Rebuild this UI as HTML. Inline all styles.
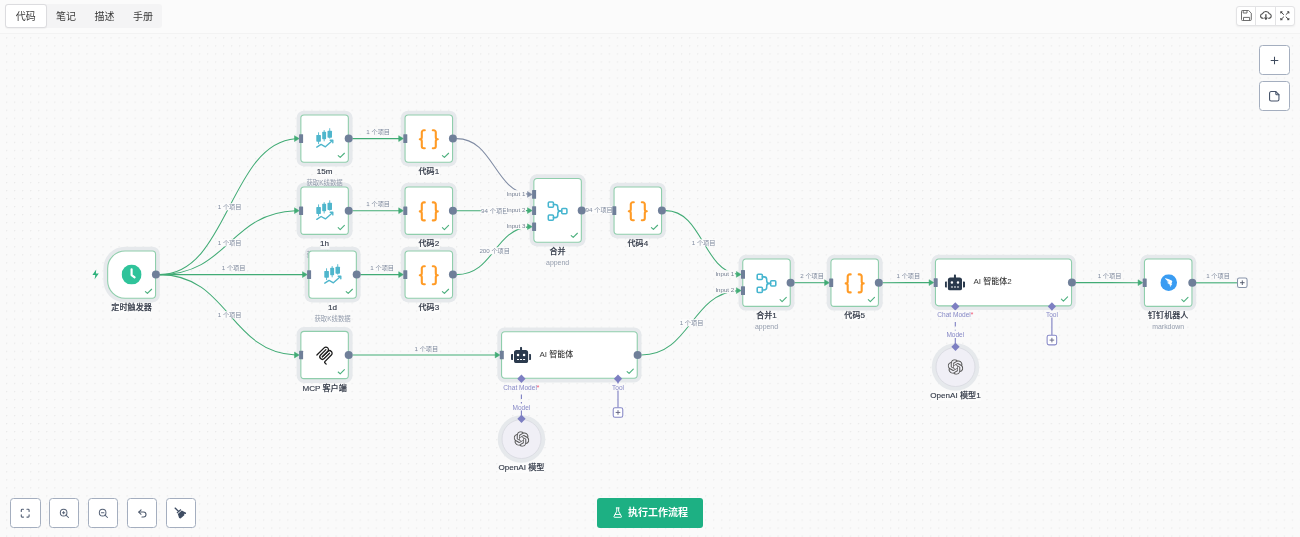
<!DOCTYPE html>
<html lang="zh-CN"><head><meta charset="utf-8"><title>工作流</title>
<style>
html,body{margin:0;padding:0}
html{will-change:transform}
body{width:1300px;height:537px;position:relative;overflow:hidden;background:#fafafa;font-family:"Liberation Sans","Noto Sans CJK SC",sans-serif;color:#333}
#canvas{position:absolute;left:0;top:33.6px;width:1296px;height:502px;background-color:#fafafa;transform-origin:0 0;transform:scale(1.0045);
 background-image:radial-gradient(circle at 0.6px 0.6px,#e9e9e9 0.5px,rgba(233,233,233,0) 0.9px);background-size:8px 8px;background-position:6px 3.3px}
#edges{position:absolute;left:0;top:0;pointer-events:none}
#topbar{position:absolute;left:0;top:0;width:1300px;height:33px;background:#fbfbfb;border-bottom:1px solid #f3f3f3}
.tabs{position:absolute;left:5px;top:4.2px;height:24.2px;width:157px;background:#f4f4f5;border-radius:3px}
.tab{position:absolute;top:0;height:24.2px;line-height:26px;font-size:10px;color:#3a3a3a;text-align:center;width:39px}
.tab.act{background:#fff;border:1px solid #dcdcdf;border-radius:3px;box-sizing:border-box;line-height:24px;box-shadow:0 0.5px 1px rgba(0,0,0,.04)}
.tbgrp{position:absolute;left:1236.4px;top:6.3px;width:58.6px;height:19.4px;background:#fff;border:1px solid #e3e3e5;border-radius:3px;box-sizing:border-box;box-shadow:0 1px 2px rgba(0,0,0,.06)}
.tbgrp i{position:absolute;top:0;width:1px;height:17.4px;background:#e3e3e5}
.tbgrp svg{position:absolute}
.cbtn{position:absolute;width:30.2px;height:29.8px;box-sizing:border-box;background:#fff;border:1px solid #a4aebf;border-radius:3.5px}
.cbtn svg{position:absolute}
.run{position:absolute;left:597px;top:497.8px;width:105.6px;height:30.2px;background:#1db083;border-radius:3px;color:#fff;font-weight:700;font-size:10px;line-height:29px}
.run span{position:absolute;left:31px;top:0;white-space:nowrap}
.run svg{position:absolute;left:16px;top:9px;width:9.4px;height:11.2px}
.node{position:absolute;box-sizing:border-box;background:#fff;border:1.1px solid #8fceac;border-radius:4.2px}
.node.trig{border-radius:18px 4.2px 4.2px 18px}
.node .ic{position:absolute;overflow:visible}
.node .chk{position:absolute;right:3.4px;bottom:4.2px;width:7px;height:5.2px;overflow:visible}
.hin{position:absolute;width:4px;height:8.6px;background:#6f7f99;border-radius:0.6px}
.hout{position:absolute;width:8px;height:8px;border-radius:50%;background:#6f7f99}
.nl{position:absolute;transform:translateX(-50%);white-space:nowrap;font-size:8.1px;font-weight:500;color:#333a48;-webkit-text-stroke:0.14px #333a48;line-height:10px;background:rgba(252,252,252,.8)}
.ns{position:absolute;transform:translateX(-50%);white-space:nowrap;font-size:6.4px;color:#939cac;line-height:8px}
.inl{position:absolute;white-space:nowrap;font-size:8px;font-weight:500;color:#383838;line-height:12px}
.il{position:absolute;transform:translate(-100%,-50%);white-space:nowrap;font-size:6.15px;color:#747e91;line-height:7.6px;background:#fafafa;padding:0 0.5px 0 0.8px}
.el{position:absolute;white-space:nowrap;font-size:6.2px;color:#7e899d;line-height:7.4px;padding:0 0.6px}
.el.above{transform:translate(-50%,-50%)}
.el.mid{transform:translate(-50%,-50%);background:#fcfcfc}
.al{position:absolute;transform:translate(-50%,-50%);white-space:nowrap;font-size:6.55px;color:#8688c6;line-height:7px;background:#fafafa;padding:0 0.4px}
.al .req{color:#f0506e}
.dia{position:absolute;width:5.9px;height:5.9px;background:#7d7fc2;transform:translate(-50%,-50%) rotate(45deg)}
.plus{position:absolute;width:10.6px;height:10.6px;box-sizing:border-box;background:#fff;border-radius:2.2px}
.plus.p{border:1.05px solid #8587c6}
.plus.g{border:1.05px solid #8793a9}
.plus svg{position:absolute;left:0;top:0;width:8.5px;height:8.5px}
.model{position:absolute;width:40px;height:40px;box-sizing:border-box;border-radius:50%;background:#f0eff6;border:1px solid #dcdde4}
.model .ic{position:absolute}
.halo{position:absolute;background:#e6e9ec;border-radius:7.8px}
.halo.trig{border-radius:21.6px 7.8px 7.8px 21.6px}
.halo.round{border-radius:50%}
.ns.lat{font-size:6.9px}
.lay{position:absolute;overflow:visible}

</style></head>
<body>
<div id="canvas"></div>
<svg class="lay" style="left:0;top:0" width="1300" height="537" viewBox="0 0 1300 537"><path d="M125.10,246.70 H152.40 A7.4,7.4 0 0 1 159.80,254.10 V295.10 A7.4,7.4 0 0 1 152.40,302.50 H125.10 A21.7,21.7 0 0 1 103.40,280.80 V268.40 A21.7,21.7 0 0 1 125.10,246.70Z" fill="#e6e9ec"/><path d="M304.00,182.80 H345.20 A7.4,7.4 0 0 1 352.60,190.20 V231.20 A7.4,7.4 0 0 1 345.20,238.60 H304.00 A7.4,7.4 0 0 1 296.60,231.20 V190.20 A7.4,7.4 0 0 1 304.00,182.80Z" fill="#e6e9ec"/><path d="M304.00,110.70 H345.20 A7.4,7.4 0 0 1 352.60,118.10 V159.10 A7.4,7.4 0 0 1 345.20,166.50 H304.00 A7.4,7.4 0 0 1 296.60,159.10 V118.10 A7.4,7.4 0 0 1 304.00,110.70Z" fill="#e6e9ec"/><path d="M408.20,110.70 H449.40 A7.4,7.4 0 0 1 456.80,118.10 V159.10 A7.4,7.4 0 0 1 449.40,166.50 H408.20 A7.4,7.4 0 0 1 400.80,159.10 V118.10 A7.4,7.4 0 0 1 408.20,110.70Z" fill="#e6e9ec"/><path d="M408.20,182.80 H449.40 A7.4,7.4 0 0 1 456.80,190.20 V231.20 A7.4,7.4 0 0 1 449.40,238.60 H408.20 A7.4,7.4 0 0 1 400.80,231.20 V190.20 A7.4,7.4 0 0 1 408.20,182.80Z" fill="#e6e9ec"/><path d="M312.00,246.70 H353.20 A7.4,7.4 0 0 1 360.60,254.10 V295.10 A7.4,7.4 0 0 1 353.20,302.50 H312.00 A7.4,7.4 0 0 1 304.60,295.10 V254.10 A7.4,7.4 0 0 1 312.00,246.70Z" fill="#e6e9ec"/><path d="M408.20,246.70 H449.40 A7.4,7.4 0 0 1 456.80,254.10 V295.10 A7.4,7.4 0 0 1 449.40,302.50 H408.20 A7.4,7.4 0 0 1 400.80,295.10 V254.10 A7.4,7.4 0 0 1 408.20,246.70Z" fill="#e6e9ec"/><path d="M304.00,327.10 H345.20 A7.4,7.4 0 0 1 352.60,334.50 V375.50 A7.4,7.4 0 0 1 345.20,382.90 H304.00 A7.4,7.4 0 0 1 296.60,375.50 V334.50 A7.4,7.4 0 0 1 304.00,327.10Z" fill="#e6e9ec"/><path d="M537.00,174.30 H578.20 A7.4,7.4 0 0 1 585.60,181.70 V239.10 A7.4,7.4 0 0 1 578.20,246.50 H537.00 A7.4,7.4 0 0 1 529.60,239.10 V181.70 A7.4,7.4 0 0 1 537.00,174.30Z" fill="#e6e9ec"/><path d="M617.20,182.70 H658.40 A7.4,7.4 0 0 1 665.80,190.10 V231.10 A7.4,7.4 0 0 1 658.40,238.50 H617.20 A7.4,7.4 0 0 1 609.80,231.10 V190.10 A7.4,7.4 0 0 1 617.20,182.70Z" fill="#e6e9ec"/><path d="M745.90,254.80 H787.10 A7.4,7.4 0 0 1 794.50,262.20 V303.20 A7.4,7.4 0 0 1 787.10,310.60 H745.90 A7.4,7.4 0 0 1 738.50,303.20 V262.20 A7.4,7.4 0 0 1 745.90,254.80Z" fill="#e6e9ec"/><path d="M834.10,254.80 H875.30 A7.4,7.4 0 0 1 882.70,262.20 V303.20 A7.4,7.4 0 0 1 875.30,310.60 H834.10 A7.4,7.4 0 0 1 826.70,303.20 V262.20 A7.4,7.4 0 0 1 834.10,254.80Z" fill="#e6e9ec"/><path d="M938.60,254.80 H1068.40 A7.4,7.4 0 0 1 1075.80,262.20 V302.70 A7.4,7.4 0 0 1 1068.40,310.10 H938.60 A7.4,7.4 0 0 1 931.20,302.70 V262.20 A7.4,7.4 0 0 1 938.60,254.80Z" fill="#e6e9ec"/><path d="M1147.60,254.80 H1188.80 A7.4,7.4 0 0 1 1196.20,262.20 V303.20 A7.4,7.4 0 0 1 1188.80,310.60 H1147.60 A7.4,7.4 0 0 1 1140.20,303.20 V262.20 A7.4,7.4 0 0 1 1147.60,254.80Z" fill="#e6e9ec"/><path d="M504.70,327.45 H634.10 A7.4,7.4 0 0 1 641.50,334.85 V375.05 A7.4,7.4 0 0 1 634.10,382.45 H504.70 A7.4,7.4 0 0 1 497.30,375.05 V334.85 A7.4,7.4 0 0 1 504.70,327.45Z" fill="#e6e9ec"/><circle cx="521.5" cy="439" r="23.8" fill="#e6e9ec"/><circle cx="955.5" cy="367" r="23.8" fill="#e6e9ec"/></svg>
<svg id="edges" width="1300" height="537" viewBox="0 0 1300 537">
<path d="M159.70,274.60 C228.13,274.60 229.42,143.72 295.30,138.75" fill="none" stroke="#41ab75" stroke-width="1.05"/>
<path d="M294.50,135.70 L299.20,138.60 L294.50,141.50 Z" fill="#41ab75" stroke="#41ab75" stroke-width="0.5" stroke-linejoin="round"/>
<path d="M159.70,274.60 C228.13,274.60 229.42,213.10 295.30,210.77" fill="none" stroke="#41ab75" stroke-width="1.05"/>
<path d="M294.50,207.80 L299.20,210.70 L294.50,213.60 Z" fill="#41ab75" stroke="#41ab75" stroke-width="0.5" stroke-linejoin="round"/>
<path d="M159.70,274.60 C232.13,274.60 233.43,274.60 303.30,274.60" fill="none" stroke="#41ab75" stroke-width="1.05"/>
<path d="M302.50,271.70 L307.20,274.60 L302.50,277.50 Z" fill="#41ab75" stroke="#41ab75" stroke-width="0.5" stroke-linejoin="round"/>
<path d="M159.70,274.60 C228.13,274.60 229.42,351.97 295.30,354.91" fill="none" stroke="#41ab75" stroke-width="1.05"/>
<path d="M294.50,352.10 L299.20,355.00 L294.50,357.90 Z" fill="#41ab75" stroke="#41ab75" stroke-width="0.5" stroke-linejoin="round"/>
<path d="M352.50,138.60 C376.58,138.60 377.88,138.60 399.50,138.60" fill="none" stroke="#41ab75" stroke-width="1.05"/>
<path d="M398.70,135.70 L403.40,138.60 L398.70,141.50 Z" fill="#41ab75" stroke="#41ab75" stroke-width="0.5" stroke-linejoin="round"/>
<path d="M352.50,210.70 C376.58,210.70 377.88,210.70 399.50,210.70" fill="none" stroke="#41ab75" stroke-width="1.05"/>
<path d="M398.70,207.80 L403.40,210.70 L398.70,213.60 Z" fill="#41ab75" stroke="#41ab75" stroke-width="0.5" stroke-linejoin="round"/>
<path d="M360.50,274.60 C380.56,274.60 381.86,274.60 399.50,274.60" fill="none" stroke="#41ab75" stroke-width="1.05"/>
<path d="M398.70,271.70 L403.40,274.60 L398.70,277.50 Z" fill="#41ab75" stroke="#41ab75" stroke-width="0.5" stroke-linejoin="round"/>
<path d="M456.70,138.60 C493.10,138.60 494.40,190.49 528.30,194.19" fill="none" stroke="#7f8ba3" stroke-width="1.05"/>
<path d="M527.50,191.50 L532.20,194.40 L527.50,197.30 Z" fill="#7f8ba3" stroke="#7f8ba3" stroke-width="0.5" stroke-linejoin="round"/>
<path d="M456.70,210.70 C493.10,210.70 494.40,210.61 528.30,210.60" fill="none" stroke="#41ab75" stroke-width="1.05"/>
<path d="M527.50,207.70 L532.20,210.60 L527.50,213.50 Z" fill="#41ab75" stroke="#41ab75" stroke-width="0.5" stroke-linejoin="round"/>
<path d="M456.70,274.60 C493.10,274.60 494.40,230.06 528.30,226.88" fill="none" stroke="#41ab75" stroke-width="1.05"/>
<path d="M527.50,223.80 L532.20,226.70 L527.50,229.60 Z" fill="#41ab75" stroke="#41ab75" stroke-width="0.5" stroke-linejoin="round"/>
<path d="M585.50,210.40 C597.51,210.40 598.79,210.48 608.50,210.50" fill="none" stroke="#41ab75" stroke-width="1.05"/>
<path d="M607.70,207.60 L612.40,210.50 L607.70,213.40 Z" fill="#41ab75" stroke="#41ab75" stroke-width="0.5" stroke-linejoin="round"/>
<path d="M665.70,210.60 C702.05,210.60 703.35,269.92 737.20,274.16" fill="none" stroke="#41ab75" stroke-width="1.05"/>
<path d="M736.40,271.50 L741.10,274.40 L736.40,277.30 Z" fill="#41ab75" stroke="#41ab75" stroke-width="0.5" stroke-linejoin="round"/>
<path d="M641.40,355.00 C689.91,355.00 691.21,294.00 737.20,290.74" fill="none" stroke="#41ab75" stroke-width="1.05"/>
<path d="M736.40,287.70 L741.10,290.60 L736.40,293.50 Z" fill="#41ab75" stroke="#41ab75" stroke-width="0.5" stroke-linejoin="round"/>
<path d="M352.50,355.00 C424.88,355.00 426.18,355.00 496.00,355.00" fill="none" stroke="#41ab75" stroke-width="1.05"/>
<path d="M495.20,352.10 L499.90,355.00 L495.20,357.90 Z" fill="#41ab75" stroke="#41ab75" stroke-width="0.5" stroke-linejoin="round"/>
<path d="M794.40,282.70 C810.44,282.70 811.74,282.70 825.40,282.70" fill="none" stroke="#41ab75" stroke-width="1.05"/>
<path d="M824.60,279.80 L829.30,282.70 L824.60,285.60 Z" fill="#41ab75" stroke="#41ab75" stroke-width="0.5" stroke-linejoin="round"/>
<path d="M882.60,282.70 C906.83,282.70 908.13,282.61 929.90,282.60" fill="none" stroke="#41ab75" stroke-width="1.05"/>
<path d="M929.10,279.70 L933.80,282.60 L929.10,285.50 Z" fill="#41ab75" stroke="#41ab75" stroke-width="0.5" stroke-linejoin="round"/>
<path d="M1075.70,282.60 C1107.90,282.60 1109.20,282.69 1138.90,282.70" fill="none" stroke="#41ab75" stroke-width="1.05"/>
<path d="M1138.10,279.80 L1142.80,282.70 L1138.10,285.60 Z" fill="#41ab75" stroke="#41ab75" stroke-width="0.5" stroke-linejoin="round"/>
<path d="M1192.5,282.7 L1237,282.7" stroke="#70c097" stroke-width="1.4" fill="none"/>
<path d="M521.4,394.4 V398.9 M521.4,402.1 V403.9 M521.4,410.0 V419.0" stroke="#7d7fc2" stroke-width="1.1" fill="none"/>
<path d="M618.0,378.8 L618.0,407.4" stroke="#7d7fc2" stroke-width="1.1" fill="none"/>
<path d="M955.3,322.0 V326.6 M955.3,329.8 V331.6 M955.3,338.0 V347.0" stroke="#7d7fc2" stroke-width="1.1" fill="none"/>
<path d="M1051.9,306.4 L1051.9,335.0" stroke="#7d7fc2" stroke-width="1.1" fill="none"/>
</svg>
<div class="el mid" style="left:229.6px;top:206.6px">1 个项目</div>
<div class="el mid" style="left:229.6px;top:242.7px">1 个项目</div>
<div class="el above" style="left:233.6px;top:268.1px">1 个项目</div>
<div class="el mid" style="left:229.6px;top:314.8px">1 个项目</div>
<div class="el above" style="left:378.2px;top:132.1px">1 个项目</div>
<div class="el above" style="left:378.2px;top:204.2px">1 个项目</div>
<div class="el above" style="left:382.2px;top:268.1px">1 个项目</div>
<div class="el mid" style="left:494.7px;top:210.6px">94 个项目</div>
<div class="el mid" style="left:494.7px;top:250.7px">200 个项目</div>
<div class="el mid" style="left:599.2px;top:210.4px">94 个项目</div>
<div class="el mid" style="left:703.6px;top:242.5px">1 个项目</div>
<div class="el mid" style="left:691.5px;top:322.8px">1 个项目</div>
<div class="el above" style="left:426.4px;top:348.5px">1 个项目</div>
<div class="el above" style="left:812.1px;top:276.2px">2 个项目</div>
<div class="el above" style="left:908.4px;top:276.1px">1 个项目</div>
<div class="el above" style="left:1109.5px;top:276.1px">1 个项目</div>
<div class="el above" style="left:1218.0px;top:275.8px">1 个项目</div>
<svg class="lay" style="left:104px;top:248px" width="59" height="57" viewBox="104 248 59 57"><path d="M125.10,250.95 H152.40 A3.1500000000000004,3.1500000000000004 0 0 1 155.55,254.10 V295.10 A3.1500000000000004,3.1500000000000004 0 0 1 152.40,298.25 H125.10 A17.45,17.45 0 0 1 107.65,280.80 V268.40 A17.45,17.45 0 0 1 125.10,250.95Z" fill="#fff" stroke="#8fceac" stroke-width="1.1"/><svg x="121.60" y="264.60" width="20" height="20" viewBox="0 0 24 24"><circle cx="12" cy="12" r="12" fill="#2fc39a"/>
<path d="M12 5.6V12.6L15.6 15.4" fill="none" stroke="#fff" stroke-width="2.6" stroke-linecap="round" stroke-linejoin="round"/></svg><path d="M145.40,291.60 l2.0,1.85 l4.2,-4.2" fill="none" stroke="#4cb07e" stroke-width="1.1" stroke-linecap="round" stroke-linejoin="round"/><circle cx="155.90" cy="274.60" r="4" fill="#6f7f99"/></svg>
<div class="nl" style="left:131.6px;top:303.3px">定时触发器</div>
<svg class="lay" style="left:297px;top:184px" width="58" height="57" viewBox="297 184 58 57"><path d="M304.00,187.05 H345.20 A3.1500000000000004,3.1500000000000004 0 0 1 348.35,190.20 V231.20 A3.1500000000000004,3.1500000000000004 0 0 1 345.20,234.35 H304.00 A3.1500000000000004,3.1500000000000004 0 0 1 300.85,231.20 V190.20 A3.1500000000000004,3.1500000000000004 0 0 1 304.00,187.05Z" fill="#fff" stroke="#8fceac" stroke-width="1.1"/><svg x="300.20" y="186.10" width="48.8" height="48.8" viewBox="0 0 48.8 48.8"><g fill="#4fb6cc" stroke="none">
<rect x="16.1" y="20.9" width="4.6" height="6.9" rx="0.7"/>
<rect x="17.95" y="18.3" width="0.9" height="11.8"/>
<rect x="22" y="17.7" width="3.9" height="7.5" rx="0.7"/>
<rect x="23.5" y="16.1" width="0.9" height="11.2"/>
<rect x="27.3" y="16.7" width="4.5" height="7.1" rx="0.7"/>
<rect x="29.1" y="14.2" width="0.9" height="10.4"/>
</g>
<path d="M16.6 33.2 L20.9 30.4 L25.2 32.8 L32 26.8" fill="none" stroke="#4fb6cc" stroke-width="1.4" stroke-linecap="round" stroke-linejoin="round"/>
<path d="M30 26.2 L32.6 26.2 L32.6 28.8" fill="none" stroke="#4fb6cc" stroke-width="1.4" stroke-linecap="round" stroke-linejoin="round"/></svg><path d="M338.20,227.70 l2.0,1.85 l4.2,-4.2" fill="none" stroke="#4cb07e" stroke-width="1.1" stroke-linecap="round" stroke-linejoin="round"/><rect x="299.10" y="206.40" width="4" height="8.6" rx="0.5" fill="#6f7f99"/><circle cx="348.70" cy="210.70" r="4" fill="#6f7f99"/></svg>
<div class="nl" style="left:324.6px;top:239.4px">1h</div>
<div class="ns" style="left:324.6px;top:250.7px">获取K线数据</div>
<svg class="lay" style="left:297px;top:112px" width="58" height="57" viewBox="297 112 58 57"><path d="M304.00,114.95 H345.20 A3.1500000000000004,3.1500000000000004 0 0 1 348.35,118.10 V159.10 A3.1500000000000004,3.1500000000000004 0 0 1 345.20,162.25 H304.00 A3.1500000000000004,3.1500000000000004 0 0 1 300.85,159.10 V118.10 A3.1500000000000004,3.1500000000000004 0 0 1 304.00,114.95Z" fill="#fff" stroke="#8fceac" stroke-width="1.1"/><svg x="300.20" y="114.00" width="48.8" height="48.8" viewBox="0 0 48.8 48.8"><g fill="#4fb6cc" stroke="none">
<rect x="16.1" y="20.9" width="4.6" height="6.9" rx="0.7"/>
<rect x="17.95" y="18.3" width="0.9" height="11.8"/>
<rect x="22" y="17.7" width="3.9" height="7.5" rx="0.7"/>
<rect x="23.5" y="16.1" width="0.9" height="11.2"/>
<rect x="27.3" y="16.7" width="4.5" height="7.1" rx="0.7"/>
<rect x="29.1" y="14.2" width="0.9" height="10.4"/>
</g>
<path d="M16.6 33.2 L20.9 30.4 L25.2 32.8 L32 26.8" fill="none" stroke="#4fb6cc" stroke-width="1.4" stroke-linecap="round" stroke-linejoin="round"/>
<path d="M30 26.2 L32.6 26.2 L32.6 28.8" fill="none" stroke="#4fb6cc" stroke-width="1.4" stroke-linecap="round" stroke-linejoin="round"/></svg><path d="M338.20,155.60 l2.0,1.85 l4.2,-4.2" fill="none" stroke="#4cb07e" stroke-width="1.1" stroke-linecap="round" stroke-linejoin="round"/><rect x="299.10" y="134.30" width="4" height="8.6" rx="0.5" fill="#6f7f99"/><circle cx="348.70" cy="138.60" r="4" fill="#6f7f99"/></svg>
<div class="nl" style="left:324.6px;top:167.3px">15m</div>
<div class="ns" style="left:324.6px;top:178.6px">获取K线数据</div>
<svg class="lay" style="left:401px;top:112px" width="59" height="57" viewBox="401 112 59 57"><path d="M408.20,114.95 H449.40 A3.1500000000000004,3.1500000000000004 0 0 1 452.55,118.10 V159.10 A3.1500000000000004,3.1500000000000004 0 0 1 449.40,162.25 H408.20 A3.1500000000000004,3.1500000000000004 0 0 1 405.05,159.10 V118.10 A3.1500000000000004,3.1500000000000004 0 0 1 408.20,114.95Z" fill="#fff" stroke="#8fceac" stroke-width="1.1"/><svg x="416.80" y="127.30" width="24" height="24" viewBox="0 0 24 24"><g fill="none" stroke="#ff9b26" stroke-width="2.1" stroke-linecap="round" stroke-linejoin="round">
<path d="M8 3H7a2 2 0 0 0-2 2v5a2 2 0 0 1-2 2 2 2 0 0 1 2 2v5c0 1.1.9 2 2 2h1"/>
<path d="M16 21h1a2 2 0 0 0 2-2v-5c0-1.1.9-2 2-2a2 2 0 0 1-2-2V5a2 2 0 0 0-2-2h-1"/>
</g></svg><path d="M442.40,155.60 l2.0,1.85 l4.2,-4.2" fill="none" stroke="#4cb07e" stroke-width="1.1" stroke-linecap="round" stroke-linejoin="round"/><rect x="403.30" y="134.30" width="4" height="8.6" rx="0.5" fill="#6f7f99"/><circle cx="452.90" cy="138.60" r="4" fill="#6f7f99"/></svg>
<div class="nl" style="left:428.8px;top:167.3px">代码1</div>
<svg class="lay" style="left:401px;top:184px" width="59" height="57" viewBox="401 184 59 57"><path d="M408.20,187.05 H449.40 A3.1500000000000004,3.1500000000000004 0 0 1 452.55,190.20 V231.20 A3.1500000000000004,3.1500000000000004 0 0 1 449.40,234.35 H408.20 A3.1500000000000004,3.1500000000000004 0 0 1 405.05,231.20 V190.20 A3.1500000000000004,3.1500000000000004 0 0 1 408.20,187.05Z" fill="#fff" stroke="#8fceac" stroke-width="1.1"/><svg x="416.80" y="199.40" width="24" height="24" viewBox="0 0 24 24"><g fill="none" stroke="#ff9b26" stroke-width="2.1" stroke-linecap="round" stroke-linejoin="round">
<path d="M8 3H7a2 2 0 0 0-2 2v5a2 2 0 0 1-2 2 2 2 0 0 1 2 2v5c0 1.1.9 2 2 2h1"/>
<path d="M16 21h1a2 2 0 0 0 2-2v-5c0-1.1.9-2 2-2a2 2 0 0 1-2-2V5a2 2 0 0 0-2-2h-1"/>
</g></svg><path d="M442.40,227.70 l2.0,1.85 l4.2,-4.2" fill="none" stroke="#4cb07e" stroke-width="1.1" stroke-linecap="round" stroke-linejoin="round"/><rect x="403.30" y="206.40" width="4" height="8.6" rx="0.5" fill="#6f7f99"/><circle cx="452.90" cy="210.70" r="4" fill="#6f7f99"/></svg>
<div class="nl" style="left:428.8px;top:239.4px">代码2</div>
<svg class="lay" style="left:305px;top:248px" width="58" height="57" viewBox="305 248 58 57"><path d="M312.00,250.95 H353.20 A3.1500000000000004,3.1500000000000004 0 0 1 356.35,254.10 V295.10 A3.1500000000000004,3.1500000000000004 0 0 1 353.20,298.25 H312.00 A3.1500000000000004,3.1500000000000004 0 0 1 308.85,295.10 V254.10 A3.1500000000000004,3.1500000000000004 0 0 1 312.00,250.95Z" fill="#fff" stroke="#8fceac" stroke-width="1.1"/><svg x="308.20" y="250.00" width="48.8" height="48.8" viewBox="0 0 48.8 48.8"><g fill="#4fb6cc" stroke="none">
<rect x="16.1" y="20.9" width="4.6" height="6.9" rx="0.7"/>
<rect x="17.95" y="18.3" width="0.9" height="11.8"/>
<rect x="22" y="17.7" width="3.9" height="7.5" rx="0.7"/>
<rect x="23.5" y="16.1" width="0.9" height="11.2"/>
<rect x="27.3" y="16.7" width="4.5" height="7.1" rx="0.7"/>
<rect x="29.1" y="14.2" width="0.9" height="10.4"/>
</g>
<path d="M16.6 33.2 L20.9 30.4 L25.2 32.8 L32 26.8" fill="none" stroke="#4fb6cc" stroke-width="1.4" stroke-linecap="round" stroke-linejoin="round"/>
<path d="M30 26.2 L32.6 26.2 L32.6 28.8" fill="none" stroke="#4fb6cc" stroke-width="1.4" stroke-linecap="round" stroke-linejoin="round"/></svg><path d="M346.20,291.60 l2.0,1.85 l4.2,-4.2" fill="none" stroke="#4cb07e" stroke-width="1.1" stroke-linecap="round" stroke-linejoin="round"/><rect x="307.10" y="270.30" width="4" height="8.6" rx="0.5" fill="#6f7f99"/><circle cx="356.70" cy="274.60" r="4" fill="#6f7f99"/></svg>
<div class="nl" style="left:332.6px;top:303.3px">1d</div>
<div class="ns" style="left:332.6px;top:314.6px">获取K线数据</div>
<svg class="lay" style="left:401px;top:248px" width="59" height="57" viewBox="401 248 59 57"><path d="M408.20,250.95 H449.40 A3.1500000000000004,3.1500000000000004 0 0 1 452.55,254.10 V295.10 A3.1500000000000004,3.1500000000000004 0 0 1 449.40,298.25 H408.20 A3.1500000000000004,3.1500000000000004 0 0 1 405.05,295.10 V254.10 A3.1500000000000004,3.1500000000000004 0 0 1 408.20,250.95Z" fill="#fff" stroke="#8fceac" stroke-width="1.1"/><svg x="416.80" y="263.30" width="24" height="24" viewBox="0 0 24 24"><g fill="none" stroke="#ff9b26" stroke-width="2.1" stroke-linecap="round" stroke-linejoin="round">
<path d="M8 3H7a2 2 0 0 0-2 2v5a2 2 0 0 1-2 2 2 2 0 0 1 2 2v5c0 1.1.9 2 2 2h1"/>
<path d="M16 21h1a2 2 0 0 0 2-2v-5c0-1.1.9-2 2-2a2 2 0 0 1-2-2V5a2 2 0 0 0-2-2h-1"/>
</g></svg><path d="M442.40,291.60 l2.0,1.85 l4.2,-4.2" fill="none" stroke="#4cb07e" stroke-width="1.1" stroke-linecap="round" stroke-linejoin="round"/><rect x="403.30" y="270.30" width="4" height="8.6" rx="0.5" fill="#6f7f99"/><circle cx="452.90" cy="274.60" r="4" fill="#6f7f99"/></svg>
<div class="nl" style="left:428.8px;top:303.3px">代码3</div>
<svg class="lay" style="left:297px;top:328px" width="58" height="58" viewBox="297 328 58 58"><path d="M304.00,331.35 H345.20 A3.1500000000000004,3.1500000000000004 0 0 1 348.35,334.50 V375.50 A3.1500000000000004,3.1500000000000004 0 0 1 345.20,378.65 H304.00 A3.1500000000000004,3.1500000000000004 0 0 1 300.85,375.50 V334.50 A3.1500000000000004,3.1500000000000004 0 0 1 304.00,331.35Z" fill="#fff" stroke="#8fceac" stroke-width="1.1"/><svg x="314.25" y="344.65" width="20.7" height="20.7" viewBox="0 0 195 195"><g fill="none" stroke="#1c1c1c" stroke-width="12" stroke-linecap="round">
<path d="M25 97.8528L92.8823 29.9706C102.255 20.598 117.451 20.598 126.823 29.9706C136.196 39.3431 136.196 54.5391 126.823 63.9117L75.5581 115.177"/>
<path d="M76.2653 114.47L126.823 63.9117C136.196 54.5391 151.392 54.5391 160.765 63.9117L161.118 64.2652C170.491 73.6378 170.491 88.8338 161.118 98.2063L99.7248 159.6C96.6006 162.724 96.6006 167.789 99.7248 170.913L112.331 183.52"/>
<path d="M109.853 46.9411L59.6482 97.1457C50.2757 106.518 50.2757 121.714 59.6482 131.087C69.0208 140.459 84.2168 140.459 93.5894 131.087L143.794 80.8822"/>
</g></svg><path d="M338.20,372.00 l2.0,1.85 l4.2,-4.2" fill="none" stroke="#4cb07e" stroke-width="1.1" stroke-linecap="round" stroke-linejoin="round"/><rect x="299.10" y="350.70" width="4" height="8.6" rx="0.5" fill="#6f7f99"/><circle cx="348.70" cy="355.00" r="4" fill="#6f7f99"/></svg>
<div class="nl" style="left:324.6px;top:383.7px">MCP 客户端</div>
<svg class="lay" style="left:530px;top:176px" width="58" height="73" viewBox="530 176 58 73"><path d="M537.00,178.55 H578.20 A3.1500000000000004,3.1500000000000004 0 0 1 581.35,181.70 V239.10 A3.1500000000000004,3.1500000000000004 0 0 1 578.20,242.25 H537.00 A3.1500000000000004,3.1500000000000004 0 0 1 533.85,239.10 V181.70 A3.1500000000000004,3.1500000000000004 0 0 1 537.00,178.55Z" fill="#fff" stroke="#8fceac" stroke-width="1.1"/><svg x="545.20" y="198.70" width="24.8" height="24.8" viewBox="0 0 24 24"><g fill="none" stroke="#46b5cf" stroke-width="1.5" stroke-linejoin="round" stroke-linecap="round">
<rect x="3" y="3.2" width="5" height="5" rx="1"/>
<rect x="3" y="15.8" width="5" height="5" rx="1"/>
<rect x="16" y="9.5" width="5" height="5" rx="1"/>
<path d="M8 5.7h1.6a2.6 2.6 0 0 1 2.6 2.6v1.1a2.6 2.6 0 0 0 2.6 2.6H16"/>
<path d="M8 18.3h1.6a2.6 2.6 0 0 0 2.6-2.6v-1.1a2.6 2.6 0 0 1 2.6-2.6"/>
</g></svg><path d="M571.20,235.60 l2.0,1.85 l4.2,-4.2" fill="none" stroke="#4cb07e" stroke-width="1.1" stroke-linecap="round" stroke-linejoin="round"/><rect x="532.10" y="190.10" width="4" height="8.6" rx="0.5" fill="#6f7f99"/><rect x="532.10" y="206.30" width="4" height="8.6" rx="0.5" fill="#6f7f99"/><rect x="532.10" y="222.40" width="4" height="8.6" rx="0.5" fill="#6f7f99"/><circle cx="581.70" cy="210.40" r="4" fill="#6f7f99"/></svg>
<div class="il" style="left:525.8px;top:193.6px">Input 1</div>
<div class="il" style="left:525.8px;top:209.8px">Input 2</div>
<div class="il" style="left:525.8px;top:225.9px">Input 3</div>
<div class="nl" style="left:557.6px;top:247.3px">合并</div>
<div class="ns lat" style="left:557.6px;top:258.6px">append</div>
<svg class="lay" style="left:610px;top:184px" width="59" height="57" viewBox="610 184 59 57"><path d="M617.20,186.95 H658.40 A3.1500000000000004,3.1500000000000004 0 0 1 661.55,190.10 V231.10 A3.1500000000000004,3.1500000000000004 0 0 1 658.40,234.25 H617.20 A3.1500000000000004,3.1500000000000004 0 0 1 614.05,231.10 V190.10 A3.1500000000000004,3.1500000000000004 0 0 1 617.20,186.95Z" fill="#fff" stroke="#8fceac" stroke-width="1.1"/><svg x="625.80" y="199.30" width="24" height="24" viewBox="0 0 24 24"><g fill="none" stroke="#ff9b26" stroke-width="2.1" stroke-linecap="round" stroke-linejoin="round">
<path d="M8 3H7a2 2 0 0 0-2 2v5a2 2 0 0 1-2 2 2 2 0 0 1 2 2v5c0 1.1.9 2 2 2h1"/>
<path d="M16 21h1a2 2 0 0 0 2-2v-5c0-1.1.9-2 2-2a2 2 0 0 1-2-2V5a2 2 0 0 0-2-2h-1"/>
</g></svg><path d="M651.40,227.60 l2.0,1.85 l4.2,-4.2" fill="none" stroke="#4cb07e" stroke-width="1.1" stroke-linecap="round" stroke-linejoin="round"/><rect x="612.30" y="206.30" width="4" height="8.6" rx="0.5" fill="#6f7f99"/><circle cx="661.90" cy="210.60" r="4" fill="#6f7f99"/></svg>
<div class="nl" style="left:637.8px;top:239.3px">代码4</div>
<svg class="lay" style="left:739px;top:256px" width="58" height="57" viewBox="739 256 58 57"><path d="M745.90,259.05 H787.10 A3.1500000000000004,3.1500000000000004 0 0 1 790.25,262.20 V303.20 A3.1500000000000004,3.1500000000000004 0 0 1 787.10,306.35 H745.90 A3.1500000000000004,3.1500000000000004 0 0 1 742.75,303.20 V262.20 A3.1500000000000004,3.1500000000000004 0 0 1 745.90,259.05Z" fill="#fff" stroke="#8fceac" stroke-width="1.1"/><svg x="754.10" y="271.00" width="24.8" height="24.8" viewBox="0 0 24 24"><g fill="none" stroke="#46b5cf" stroke-width="1.5" stroke-linejoin="round" stroke-linecap="round">
<rect x="3" y="3.2" width="5" height="5" rx="1"/>
<rect x="3" y="15.8" width="5" height="5" rx="1"/>
<rect x="16" y="9.5" width="5" height="5" rx="1"/>
<path d="M8 5.7h1.6a2.6 2.6 0 0 1 2.6 2.6v1.1a2.6 2.6 0 0 0 2.6 2.6H16"/>
<path d="M8 18.3h1.6a2.6 2.6 0 0 0 2.6-2.6v-1.1a2.6 2.6 0 0 1 2.6-2.6"/>
</g></svg><path d="M780.10,299.70 l2.0,1.85 l4.2,-4.2" fill="none" stroke="#4cb07e" stroke-width="1.1" stroke-linecap="round" stroke-linejoin="round"/><rect x="741.00" y="270.10" width="4" height="8.6" rx="0.5" fill="#6f7f99"/><rect x="741.00" y="286.30" width="4" height="8.6" rx="0.5" fill="#6f7f99"/><circle cx="790.60" cy="282.70" r="4" fill="#6f7f99"/></svg>
<div class="il" style="left:734.7px;top:273.6px">Input 1</div>
<div class="il" style="left:734.7px;top:289.8px">Input 2</div>
<div class="nl" style="left:766.5px;top:311.4px">合并1</div>
<div class="ns lat" style="left:766.5px;top:322.7px">append</div>
<svg class="lay" style="left:827px;top:256px" width="59" height="57" viewBox="827 256 59 57"><path d="M834.10,259.05 H875.30 A3.1500000000000004,3.1500000000000004 0 0 1 878.45,262.20 V303.20 A3.1500000000000004,3.1500000000000004 0 0 1 875.30,306.35 H834.10 A3.1500000000000004,3.1500000000000004 0 0 1 830.95,303.20 V262.20 A3.1500000000000004,3.1500000000000004 0 0 1 834.10,259.05Z" fill="#fff" stroke="#8fceac" stroke-width="1.1"/><svg x="842.70" y="271.40" width="24" height="24" viewBox="0 0 24 24"><g fill="none" stroke="#ff9b26" stroke-width="2.1" stroke-linecap="round" stroke-linejoin="round">
<path d="M8 3H7a2 2 0 0 0-2 2v5a2 2 0 0 1-2 2 2 2 0 0 1 2 2v5c0 1.1.9 2 2 2h1"/>
<path d="M16 21h1a2 2 0 0 0 2-2v-5c0-1.1.9-2 2-2a2 2 0 0 1-2-2V5a2 2 0 0 0-2-2h-1"/>
</g></svg><path d="M868.30,299.70 l2.0,1.85 l4.2,-4.2" fill="none" stroke="#4cb07e" stroke-width="1.1" stroke-linecap="round" stroke-linejoin="round"/><rect x="829.20" y="278.40" width="4" height="8.6" rx="0.5" fill="#6f7f99"/><circle cx="878.80" cy="282.70" r="4" fill="#6f7f99"/></svg>
<div class="nl" style="left:854.7px;top:311.4px">代码5</div>
<svg class="lay" style="left:931px;top:256px" width="148" height="57" viewBox="931 256 148 57"><path d="M938.60,259.05 H1068.40 A3.1500000000000004,3.1500000000000004 0 0 1 1071.55,262.20 V302.70 A3.1500000000000004,3.1500000000000004 0 0 1 1068.40,305.85 H938.60 A3.1500000000000004,3.1500000000000004 0 0 1 935.45,302.70 V262.20 A3.1500000000000004,3.1500000000000004 0 0 1 938.60,259.05Z" fill="#fff" stroke="#8fceac" stroke-width="1.1"/><svg x="944.85" y="274.35" width="20.2" height="16.2" viewBox="0 0 640 512"><path fill="#2b3a4d" d="M32,224H64V416H32A31.96166,31.96166,0,0,1,0,384V256A31.96166,31.96166,0,0,1,32,224Zm512-48V448a64.06328,64.06328,0,0,1-64,64H160a64.06328,64.06328,0,0,1-64-64V176a79.974,79.974,0,0,1,80-80H288V32a32,32,0,0,1,64,0V96H464A79.974,79.974,0,0,1,544,176ZM264,256a40,40,0,1,0-40,40A39.997,39.997,0,0,0,264,256Zm-8,128H192v32h64Zm96,0H288v32h64ZM456,256a40,40,0,1,0-40,40A39.997,39.997,0,0,0,456,256Zm-8,128H384v32h64ZM640,256V384a31.96166,31.96166,0,0,1-32,32H576V224h32A31.96166,31.96166,0,0,1,640,256Z"/></svg><path d="M1061.40,299.20 l2.0,1.85 l4.2,-4.2" fill="none" stroke="#4cb07e" stroke-width="1.1" stroke-linecap="round" stroke-linejoin="round"/><rect x="933.70" y="278.30" width="4" height="8.6" rx="0.5" fill="#6f7f99"/><circle cx="1071.90" cy="282.60" r="4" fill="#6f7f99"/><path d="M951.15,306.40 L955.30,302.25 L959.45,306.40 L955.30,310.55Z" fill="#7d7fc2"/><path d="M1047.75,306.40 L1051.90,302.25 L1056.05,306.40 L1051.90,310.55Z" fill="#7d7fc2"/></svg>
<div class="inl" style="left:973.4px;top:276.4px">AI 智能体2</div>
<div class="al" style="left:955.3px;top:314.3px">Chat Model<span class="req">*</span></div>
<div class="al" style="left:955.3px;top:334.3px">Model</div>
<div class="al" style="left:1051.9px;top:314.3px">Tool</div>
<svg class="lay" style="left:1044px;top:333px" width="15" height="15" viewBox="1044 333 15 15"><rect x="1047.12" y="335.32" width="9.55" height="9.55" rx="1.8" fill="#fff" stroke="#8587c6" stroke-width="1.05"/><path d="M1051.90,337.80v4.6M1049.60,340.10h4.6" stroke="#5d6080" stroke-width="0.9" fill="none"/></svg>
<svg class="lay" style="left:1140px;top:256px" width="59" height="57" viewBox="1140 256 59 57"><path d="M1147.60,259.05 H1188.80 A3.1500000000000004,3.1500000000000004 0 0 1 1191.95,262.20 V303.20 A3.1500000000000004,3.1500000000000004 0 0 1 1188.80,306.35 H1147.60 A3.1500000000000004,3.1500000000000004 0 0 1 1144.45,303.20 V262.20 A3.1500000000000004,3.1500000000000004 0 0 1 1147.60,259.05Z" fill="#fff" stroke="#8fceac" stroke-width="1.1"/><svg x="1160.35" y="274.25" width="16.7" height="16.7" viewBox="0 0 24 24"><circle cx="12" cy="12" r="12" fill="#3a9cf2"/>
<path fill="#fff" d="M6.4 5.4c2.6 .7 7.2 2 9.8 3.6c.9 .7 1.1 1.3 .8 2.2c-.3 .9 -1 2.1 -1.3 2.6h1.6l-3.6 5.4l.7 -3.3h-1.5l.8 -1.7c-1.1 .2 -2.5 -.1 -3.6 -1.2c.7 .1 1.8 .1 2.6 -.2c-1.6 -.3 -3.1 -1.5 -3.7 -2.7c.9 .4 2.4 .8 3.4 .8c-2.1 -1 -4.7 -3 -6 -5.5z"/></svg><path d="M1181.80,299.70 l2.0,1.85 l4.2,-4.2" fill="none" stroke="#4cb07e" stroke-width="1.1" stroke-linecap="round" stroke-linejoin="round"/><rect x="1142.70" y="278.40" width="4" height="8.6" rx="0.5" fill="#6f7f99"/><circle cx="1192.30" cy="282.70" r="4" fill="#6f7f99"/></svg>
<div class="nl" style="left:1168.2px;top:311.4px">钉钉机器人</div>
<div class="ns lat" style="left:1168.2px;top:322.7px">markdown</div>
<svg class="lay" style="left:498px;top:329px" width="146" height="56" viewBox="498 329 146 56"><path d="M504.70,331.70 H634.10 A3.1500000000000004,3.1500000000000004 0 0 1 637.25,334.85 V375.05 A3.1500000000000004,3.1500000000000004 0 0 1 634.10,378.20 H504.70 A3.1500000000000004,3.1500000000000004 0 0 1 501.55,375.05 V334.85 A3.1500000000000004,3.1500000000000004 0 0 1 504.70,331.70Z" fill="#fff" stroke="#8fceac" stroke-width="1.1"/><svg x="510.95" y="346.85" width="20.2" height="16.2" viewBox="0 0 640 512"><path fill="#2b3a4d" d="M32,224H64V416H32A31.96166,31.96166,0,0,1,0,384V256A31.96166,31.96166,0,0,1,32,224Zm512-48V448a64.06328,64.06328,0,0,1-64,64H160a64.06328,64.06328,0,0,1-64-64V176a79.974,79.974,0,0,1,80-80H288V32a32,32,0,0,1,64,0V96H464A79.974,79.974,0,0,1,544,176ZM264,256a40,40,0,1,0-40,40A39.997,39.997,0,0,0,264,256Zm-8,128H192v32h64Zm96,0H288v32h64ZM456,256a40,40,0,1,0-40,40A39.997,39.997,0,0,0,456,256Zm-8,128H384v32h64ZM640,256V384a31.96166,31.96166,0,0,1-32,32H576V224h32A31.96166,31.96166,0,0,1,640,256Z"/></svg><path d="M627.10,371.55 l2.0,1.85 l4.2,-4.2" fill="none" stroke="#4cb07e" stroke-width="1.1" stroke-linecap="round" stroke-linejoin="round"/><rect x="499.80" y="350.70" width="4" height="8.6" rx="0.5" fill="#6f7f99"/><circle cx="637.60" cy="355.00" r="4" fill="#6f7f99"/><path d="M517.25,378.75 L521.40,374.60 L525.55,378.75 L521.40,382.90Z" fill="#7d7fc2"/><path d="M613.85,378.75 L618.00,374.60 L622.15,378.75 L618.00,382.90Z" fill="#7d7fc2"/></svg>
<div class="inl" style="left:539.5px;top:348.9px">AI 智能体</div>
<div class="al" style="left:521.4px;top:386.6px">Chat Model<span class="req">*</span></div>
<div class="al" style="left:521.4px;top:406.6px">Model</div>
<div class="al" style="left:618.0px;top:386.6px">Tool</div>
<svg class="lay" style="left:611px;top:405px" width="14" height="15" viewBox="611 405 14 15"><rect x="613.22" y="407.67" width="9.55" height="9.55" rx="1.8" fill="#fff" stroke="#8587c6" stroke-width="1.05"/><path d="M618.00,410.15v4.6M615.70,412.45h4.6" stroke="#5d6080" stroke-width="0.9" fill="none"/></svg>
<svg class="lay" style="left:499px;top:413px" width="45" height="48" viewBox="499 413 45 48"><circle cx="521.5" cy="439" r="19.5" fill="#f0eff6" stroke="#dcdde4" stroke-width="1"/><svg x="513.70" y="431.20" width="15.6" height="15.6" viewBox="0 0 24 24"><path fill="#5a5a5a" d="M22.2819 9.8211a5.9847 5.9847 0 0 0-.5157-4.9108 6.0462 6.0462 0 0 0-6.5098-2.9A6.0651 6.0651 0 0 0 4.9807 4.1818a5.9847 5.9847 0 0 0-3.9977 2.9 6.0462 6.0462 0 0 0 .7427 7.0966 5.98 5.98 0 0 0 .511 4.9107 6.051 6.051 0 0 0 6.5146 2.9001A5.9847 5.9847 0 0 0 13.2599 24a6.0557 6.0557 0 0 0 5.7718-4.2058 5.9894 5.9894 0 0 0 3.9977-2.9001 6.0557 6.0557 0 0 0-.7475-7.0729zm-9.022 12.6081a4.4755 4.4755 0 0 1-2.8764-1.0408l.1419-.0804 4.7783-2.7582a.7948.7948 0 0 0 .3927-.6813v-6.7369l2.02 1.1686a.071.071 0 0 1 .038.052v5.5826a4.504 4.504 0 0 1-4.4945 4.4944zm-9.6607-4.1254a4.4708 4.4708 0 0 1-.5346-3.0137l.142.0852 4.783 2.7582a.7712.7712 0 0 0 .7806 0l5.8428-3.3685v2.3324a.0804.0804 0 0 1-.0332.0615L9.74 19.9502a4.4992 4.4992 0 0 1-6.1408-1.6464zM2.3408 7.8956a4.485 4.485 0 0 1 2.3655-1.9728V11.6a.7664.7664 0 0 0 .3879.6765l5.8144 3.3543-2.0201 1.1685a.0757.0757 0 0 1-.071 0l-4.8303-2.7865A4.504 4.504 0 0 1 2.3408 7.872zm16.5963 3.8558L13.1038 8.364 15.1192 7.2a.0757.0757 0 0 1 .071 0l4.8303 2.7913a4.4944 4.4944 0 0 1-.6765 8.1042v-5.6772a.79.79 0 0 0-.407-.667zm2.0107-3.0231l-.142-.0852-4.7735-2.7818a.7759.7759 0 0 0-.7854 0L9.409 9.2297V6.8974a.0662.0662 0 0 1 .0284-.0615l4.8303-2.7866a4.4992 4.4992 0 0 1 6.6802 4.66zM8.3065 12.863l-2.02-1.1638a.0804.0804 0 0 1-.038-.0567V6.0742a4.4992 4.4992 0 0 1 7.3757-3.4537l-.142.0805L8.704 5.459a.7948.7948 0 0 0-.3927.6813zm1.0976-2.3654l2.602-1.4998 2.6069 1.4998v2.9994l-2.5974 1.4997-2.6067-1.4997Z"/></svg><path d="M517.35,418.80 L521.50,414.65 L525.65,418.80 L521.50,422.95Z" fill="#7d7fc2"/></svg>
<div class="nl" style="left:521.5px;top:462.6px">OpenAI 模型</div>
<svg class="lay" style="left:933px;top:341px" width="45" height="48" viewBox="933 341 45 48"><circle cx="955.5" cy="367" r="19.5" fill="#f0eff6" stroke="#dcdde4" stroke-width="1"/><svg x="947.70" y="359.20" width="15.6" height="15.6" viewBox="0 0 24 24"><path fill="#5a5a5a" d="M22.2819 9.8211a5.9847 5.9847 0 0 0-.5157-4.9108 6.0462 6.0462 0 0 0-6.5098-2.9A6.0651 6.0651 0 0 0 4.9807 4.1818a5.9847 5.9847 0 0 0-3.9977 2.9 6.0462 6.0462 0 0 0 .7427 7.0966 5.98 5.98 0 0 0 .511 4.9107 6.051 6.051 0 0 0 6.5146 2.9001A5.9847 5.9847 0 0 0 13.2599 24a6.0557 6.0557 0 0 0 5.7718-4.2058 5.9894 5.9894 0 0 0 3.9977-2.9001 6.0557 6.0557 0 0 0-.7475-7.0729zm-9.022 12.6081a4.4755 4.4755 0 0 1-2.8764-1.0408l.1419-.0804 4.7783-2.7582a.7948.7948 0 0 0 .3927-.6813v-6.7369l2.02 1.1686a.071.071 0 0 1 .038.052v5.5826a4.504 4.504 0 0 1-4.4945 4.4944zm-9.6607-4.1254a4.4708 4.4708 0 0 1-.5346-3.0137l.142.0852 4.783 2.7582a.7712.7712 0 0 0 .7806 0l5.8428-3.3685v2.3324a.0804.0804 0 0 1-.0332.0615L9.74 19.9502a4.4992 4.4992 0 0 1-6.1408-1.6464zM2.3408 7.8956a4.485 4.485 0 0 1 2.3655-1.9728V11.6a.7664.7664 0 0 0 .3879.6765l5.8144 3.3543-2.0201 1.1685a.0757.0757 0 0 1-.071 0l-4.8303-2.7865A4.504 4.504 0 0 1 2.3408 7.872zm16.5963 3.8558L13.1038 8.364 15.1192 7.2a.0757.0757 0 0 1 .071 0l4.8303 2.7913a4.4944 4.4944 0 0 1-.6765 8.1042v-5.6772a.79.79 0 0 0-.407-.667zm2.0107-3.0231l-.142-.0852-4.7735-2.7818a.7759.7759 0 0 0-.7854 0L9.409 9.2297V6.8974a.0662.0662 0 0 1 .0284-.0615l4.8303-2.7866a4.4992 4.4992 0 0 1 6.6802 4.66zM8.3065 12.863l-2.02-1.1638a.0804.0804 0 0 1-.038-.0567V6.0742a4.4992 4.4992 0 0 1 7.3757-3.4537l-.142.0805L8.704 5.459a.7948.7948 0 0 0-.3927.6813zm1.0976-2.3654l2.602-1.4998 2.6069 1.4998v2.9994l-2.5974 1.4997-2.6067-1.4997Z"/></svg><path d="M951.35,346.80 L955.50,342.65 L959.65,346.80 L955.50,350.95Z" fill="#7d7fc2"/></svg>
<div class="nl" style="left:955.5px;top:390.6px">OpenAI 模型1</div>
<svg class="lay" style="left:1235px;top:275px" width="15" height="15" viewBox="1235 275 15 15"><rect x="1237.52" y="277.92" width="9.55" height="9.55" rx="1.8" fill="#fff" stroke="#8793a9" stroke-width="1.05"/><path d="M1242.30,280.40v4.6M1240.00,282.70h4.6" stroke="#4b5468" stroke-width="0.9" fill="none"/></svg>
<svg class="lay" style="left:91px;top:269px" width="9" height="12" viewBox="91 269 9 12"><path d="M96.2 269.5 L92.4 275 H95.3 L94.6 279.3 L98.8 273.5 H95.9 Z" fill="#2fb27c"/></svg>

<div id="topbar">
<div class="tabs">
<div class="tab act" style="left:0;width:41.6px">代码</div>
<div class="tab" style="left:41.4px">笔记</div>
<div class="tab" style="left:80.1px">描述</div>
<div class="tab" style="left:118.6px">手册</div>
</div>
<div class="tbgrp">
<i style="left:17.6px"></i><i style="left:37.4px"></i>
<svg style="left:3.7px;top:2.6px;width:10.8px;height:11px" viewBox="0 0 10.8 11" fill="none" stroke="#666" stroke-width="0.95" stroke-linejoin="round"><path d="M1.3 0.5H7.6L10.3 3.2V9.6a.9 .9 0 0 1-.9 .9H1.4a.9 .9 0 0 1-.9-.9V1.3a.8 .8 0 0 1 .8-.8z"/><path d="M2.2 0.6V3H6V0.6"/><path d="M2.5 10.4V7.4H8.6V10.4"/></svg>
<svg style="left:22.6px;top:4.1px;width:11.8px;height:8.6px" viewBox="0 0 11.8 8.6" fill="none" stroke="#4a4a4a" stroke-width="1.05" stroke-linecap="round" stroke-linejoin="round"><path d="M3.2 7.3C1.6 7.3 .55 6.3 .55 5C.55 3.8 1.4 2.9 2.5 2.8C3 1.4 4.3 .55 5.9 .55C7.5 .55 8.8 1.4 9.3 2.8C10.4 2.9 11.25 3.8 11.25 5C11.25 6.3 10.2 7.3 8.6 7.3"/><path d="M5.9 3.7V8" stroke-width="1.3"/><path d="M4.7 6.9L5.9 8.1L7.1 6.9"/></svg>
<svg style="left:42.85px;top:3.85px;width:9.7px;height:9.5px" viewBox="0 0 9.7 9.5" fill="none" stroke="#444" stroke-width="1" stroke-linecap="round" stroke-linejoin="round"><path d="M3.6 3.5L.9 .9M.8 2.1V.8H2.1"/><path d="M6.1 3.5L8.8 .9M7.6 .8H8.9V2.1"/><path d="M3.6 6L.9 8.6M.8 7.4V8.7H2.1"/><path d="M6.1 6L8.8 8.6M8.9 7.4V8.7H7.6"/></svg>
</div>
</div>
<div class="cbtn" style="left:1259.4px;top:45.1px"><svg style="left:9.3px;top:9.9px;width:9px;height:9px" viewBox="0 0 10 10"><path d="M5 0.8v8.4M0.8 5h8.4" stroke="#3f4b5e" stroke-width="1.15" fill="none"/></svg></div>
<div class="cbtn" style="left:1259.4px;top:81.3px"><svg style="left:7.4px;top:7.5px;width:12.5px;height:12.5px" viewBox="0 0 24 24" fill="none" stroke="#46536a" stroke-width="2.1" stroke-linejoin="round" stroke-linecap="round"><path d="M15 3H6a3 3 0 0 0-3 3v12a3 3 0 0 0 3 3h12a3 3 0 0 0 3-3V9z"/><path d="M15 3v4a2 2 0 0 0 2 2h4"/></svg></div>
<div class="cbtn" style="left:10.4px;top:498.2px"><svg style="left:8.7px;top:9.2px;width:10.4px;height:10.4px" viewBox="0 0 24 24" fill="none" stroke="#566277" stroke-width="2.6" stroke-linecap="round" stroke-linejoin="round"><path d="M3 8V5a2 2 0 0 1 2-2h3"/><path d="M16 3h3a2 2 0 0 1 2 2v3"/><path d="M21 16v3a2 2 0 0 1-2 2h-3"/><path d="M8 21H5a2 2 0 0 1-2-2v-3"/></svg></div>
<div class="cbtn" style="left:49.3px;top:498.2px"><svg style="left:8.6px;top:9px;width:10.6px;height:10.6px" viewBox="0 0 24 24" fill="none" stroke="#566277" stroke-width="2.3" stroke-linecap="round" stroke-linejoin="round"><circle cx="10.5" cy="10.5" r="7.5"/><path d="M21.5 21.5l-5.6-5.6"/><path d="M10.5 7.8v5.4M7.8 10.5h5.4"/></svg></div>
<div class="cbtn" style="left:88.1px;top:498.2px"><svg style="left:8.9px;top:9px;width:10.6px;height:10.6px" viewBox="0 0 24 24" fill="none" stroke="#566277" stroke-width="2.3" stroke-linecap="round" stroke-linejoin="round"><circle cx="10.5" cy="10.5" r="7.5"/><path d="M21.5 21.5l-5.6-5.6"/><path d="M7.6 10.5h5.8"/></svg></div>
<div class="cbtn" style="left:127px;top:498.2px"><svg style="left:8.7px;top:8.5px;width:10.8px;height:10.8px" viewBox="0 0 24 24" fill="none" stroke="#4d596d" stroke-width="2.4" stroke-linecap="round" stroke-linejoin="round"><path d="M9 14L4 9l5-5"/><path d="M4 9h10.5a5.5 5.5 0 0 1 0 11H11"/></svg></div>
<div class="cbtn" style="left:165.9px;top:498.2px"><svg style="left:-0.7px;top:-1.2px;width:30px;height:30px" viewBox="0 0 30 30"><path d="M9.1 10.1L12.4 13.3" stroke="#3f4d63" stroke-width="1.35" stroke-linecap="round" fill="none"/><path fill="#3f4d63" d="M10.5 14.7L14.5 11.1L15.3 12L11.3 15.6zM11.8 16.1L15.8 12.5L20.1 14.7L19.9 15.9L18.2 15.8L18.3 17.2L14.5 20.5L13.1 20z"/></svg></div>
<div class="run"><svg viewBox="0 0 20 24" fill="none" stroke="#fff" stroke-width="2.1" stroke-linecap="round" stroke-linejoin="round"><path d="M7 2h6"/><path d="M8 2v7L2.2 20a1.4 1.4 0 0 0 1.2 2.1h13.2a1.4 1.4 0 0 0 1.2-2.1L12 9V2"/><path d="M4.5 16h11"/></svg><span>执行工作流程</span></div>

</body></html>
